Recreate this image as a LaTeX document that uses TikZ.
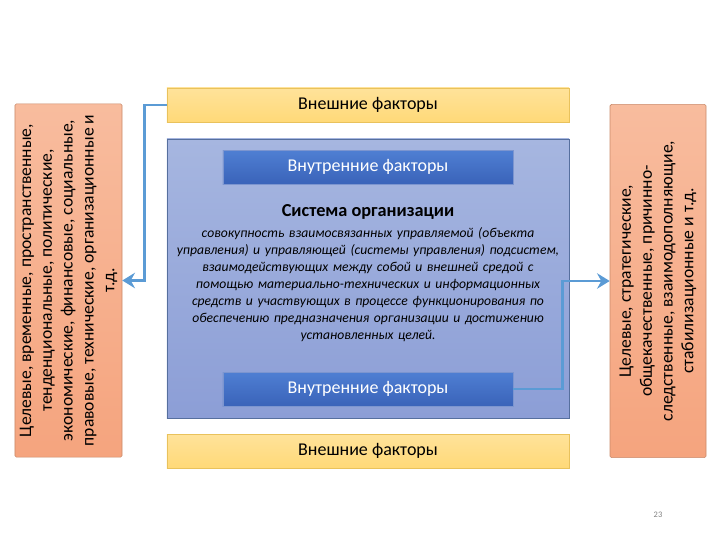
\documentclass[tikz,border=0pt]{standalone}
\usepackage{fontspec}
\setmainfont{Carlito}
\usepackage{tikz}
\usetikzlibrary{
  arrows.meta,   % Stealth 箭头
  calc,          % 坐标计算
  positioning    % 节点相对定位
}
\definecolor{waiF}{HTML}{FFD978}   % 外部因素框填色
\definecolor{waiR}{HTML}{E9C25C}   % 外部因素框边线
\definecolor{sysT}{HTML}{A6B6E0}   % 系统框上部
\definecolor{sysB}{HTML}{8C9ED6}   % 系统框下部
\definecolor{sysR}{HTML}{566F9E}   % 系统框边线
\definecolor{neiT}{HTML}{4F7FD3}   % 内部因素框上部
\definecolor{neiB}{HTML}{3A63B9}   % 内部因素框下部
\definecolor{neiR}{HTML}{7C95CF}   % 内部因素框边线
\definecolor{sbT}{HTML}{F8BC9E}    % 侧框上部
\definecolor{sbB}{HTML}{F5A47E}    % 侧框下部
\definecolor{sbR}{HTML}{C98A6A}    % 侧框边线
\definecolor{jian}{HTML}{5B9BD5}   % 箭头颜色

\begin{document}
\begin{tikzpicture}[x=0.025cm, y=-0.025cm, % 以 720x540 像素为网格，y 轴向下
  waibu/.style={draw=waiR, top color=waiF!75!white, bottom color=waiF, minimum width=10.05cm, minimum height=0.85cm, font=\fontsize{12.8}{14}\selectfont, inner sep=0pt}, % 外部因素框
  neibu/.style={draw=neiR, top color=neiT, bottom color=neiB, text=white, minimum width=7.25cm, minimum height=0.85cm, font=\fontsize{12.8}{14}\selectfont, inner sep=0pt}, % 内部因素框
  cebian/.style={draw=sbR, rounded corners=1pt, top color=sbT, bottom color=sbB, rotate=90, minimum width=8.825cm, align=center, font=\fontsize{12.5}{14.8}\selectfont, inner sep=0pt}, % 两侧竖排说明框
  jiantou/.style={draw=jian, line width=2pt, -{Stealth[length=9pt, width=11pt, inset=3pt]}} % 蓝色折线箭头
]
  \useasboundingbox (0,0) rectangle (720,540); % 固定画面大小
  % 中部系统框
  \node[draw=sysR, top color=sysT, bottom color=sysB, minimum width=10.05cm, minimum height=6.975cm, inner sep=0pt] (xitong) at (368,278.5) {}; % 系统大框
  \node[waibu] (wai1) at (368,105) {Внешние факторы}; % 上方外部因素
  \node[waibu] (wai2) at (368,451) {Внешние факторы}; % 下方外部因素
  \node[neibu] (nei1) at (368,167) {Внутренние факторы}; % 上方内部因素
  \node[neibu] (nei2) at (368,389) {Внутренние факторы}; % 下方内部因素
  \node[font=\fontsize{13}{15}\bfseries] (biaoti) at (368,212) {Система организации}; % 标题
  \node[below=-1pt of biaoti, align=center, text width=10.05cm, inner xsep=0pt, font=\fontsize{9.7}{12}\itshape] (dingyi) {совокупность взаимосвязанных управляемой (объекта\\ управления) и~управляющей (системы управления) подсистем,\\ взаимодействующих между собой и внешней средой с\\ помощью материально-технических и информационных\\ средств и участвующих в процессе функционирования по\\ обеспечению предназначения организации и достижению\\ установленных целей.}; % 定义文字

  % 两侧说明框
  \node[cebian, minimum height=2.675cm] (zuo) at (68.5,280.5) {Целевые, временные, пространственные,\\ тенденциональные, политические,\\ экономические, финансовые, социальные,\\ правовые, технические, организационные и\\ т.д.}; % 左侧框
  \node[cebian, minimum height=2.4cm] (you) at (658,281) {Целевые, стратегические,\\ общекачественные, причинно-\\ следственные, взаимодополняющие,\\ стабилизационные и т.д.}; % 右侧框

  % 箭头
  \draw[jiantou] (wai1.west) -- ++(-22,0) |- (zuo.south); % 外部因素指向左框
  \draw[jiantou] (nei2.east) -- ++(49,0) |- (you.north); % 内部因素指向右框

  \node[text=gray, font=\fontsize{6}{7}\selectfont] (yema) at (658,515) {23}; % 页码
\end{tikzpicture}
\end{document}
